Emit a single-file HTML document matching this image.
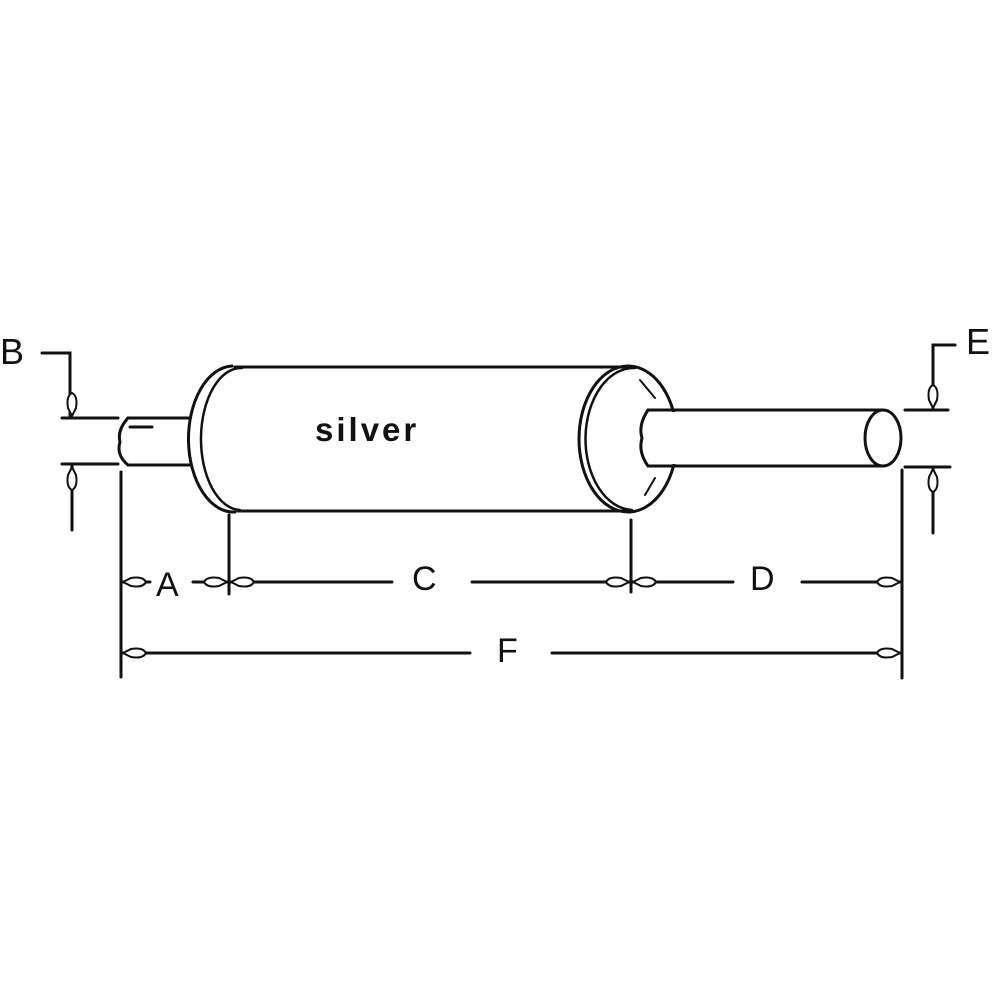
<!DOCTYPE html>
<html><head><style>html,body{margin:0;padding:0;background:#fff;}svg{display:block}</style></head>
<body>
<svg width="1000" height="1000" viewBox="0 0 1000 1000" xmlns="http://www.w3.org/2000/svg">
<g stroke="#111" stroke-width="3" fill="none" stroke-linecap="round">
<line x1="128" y1="418" x2="190" y2="418"/>
<line x1="128" y1="465" x2="190" y2="465"/>
<path d="M128,418 Q117,430 120,442 Q116,455 128,465"/>
<line x1="130" y1="427" x2="152" y2="427"/>
<line x1="235" y1="367" x2="625" y2="367"/>
<line x1="238" y1="511" x2="625" y2="511"/>
<path d="M232,366 A45,73 0 0 0 235,512"/>
<path d="M242,368 A40,71 0 0 0 240,510" stroke-width="2.5"/>
<ellipse cx="628" cy="439" rx="49" ry="73"/>
<path d="M635,368 A48,71 0 0 0 632,510" stroke-width="2.5"/>
<path d="M640,380 L655,398 M645,495 L655,478" stroke-width="2"/>
<rect x="647" y="412" width="40" height="52" fill="#fff" stroke="none"/>
<line x1="648" y1="410" x2="882" y2="410"/>
<line x1="648" y1="466" x2="882" y2="466"/>
<path d="M648,410 Q638,425 642,438 Q638,452 648,466"/>
<ellipse cx="883" cy="438" rx="18" ry="28" fill="#fff"/>
<polyline points="42,353 70,353 70,416"/>
<line x1="62" y1="418" x2="118" y2="418"/>
<line x1="62" y1="464" x2="118" y2="464"/>
<line x1="72" y1="530" x2="72" y2="466"/>
<polyline points="955,345 933,345 933,408"/>
<line x1="905" y1="410" x2="948" y2="410"/>
<line x1="905" y1="467" x2="950" y2="467"/>
<line x1="933" y1="533" x2="933" y2="469"/>
<line x1="121" y1="472" x2="121" y2="677"/>
<line x1="229" y1="515" x2="229" y2="594"/>
<line x1="631" y1="520" x2="631" y2="592"/>
<line x1="902" y1="470" x2="902" y2="678"/>
<line x1="123" y1="582" x2="150" y2="582"/>
<line x1="193" y1="582" x2="227" y2="582"/>
<line x1="231" y1="582" x2="392" y2="582"/>
<line x1="472" y1="582" x2="629" y2="582"/>
<line x1="633" y1="582" x2="733" y2="582"/>
<line x1="802" y1="582" x2="900" y2="582"/>
<line x1="123" y1="653" x2="470" y2="653"/>
<line x1="552" y1="653" x2="900" y2="653"/>
</g>
<g fill="#fff" stroke="#111" stroke-width="2">
<path d="M123,582 l8,-4 q12,-2 15,4 q-3,6 -15,4z"/>
<path d="M227,582 l-8,-4 q-12,-2 -15,4 q3,6 15,4z"/>
<path d="M231,582 l8,-4 q12,-2 15,4 q-3,6 -15,4z"/>
<path d="M629,582 l-8,-4 q-12,-2 -15,4 q3,6 15,4z"/>
<path d="M633,582 l8,-4 q12,-2 15,4 q-3,6 -15,4z"/>
<path d="M900,582 l-8,-4 q-12,-2 -15,4 q3,6 15,4z"/>
<path d="M123,653 l8,-4 q12,-2 15,4 q-3,6 -15,4z"/>
<path d="M900,653 l-8,-4 q-12,-2 -15,4 q3,6 15,4z"/>
<path d="M72,416 l-4,-8 q-2,-12 4,-15 q6,3 4,15z"/>
<path d="M72,467 l-4,8 q-2,12 4,15 q6,-3 4,-15z"/>
<path d="M933,408 l-4,-8 q-2,-12 4,-15 q6,3 4,15z"/>
<path d="M933,469 l-4,8 q-2,12 4,15 q6,-3 4,-15z"/>
</g>
<g font-family="Liberation Sans, sans-serif" fill="#111">
<text x="0" y="364" font-size="36">B</text>
<text x="966" y="354" font-size="36">E</text>
<text x="156" y="596" font-size="34">A</text>
<text x="412" y="590" font-size="34">C</text>
<text x="750" y="590" font-size="34">D</text>
<text x="497" y="662" font-size="34">F</text>
<text x="315" y="441" font-size="33" font-weight="bold" letter-spacing="3">silver</text>
</g>
</svg>
</body></html>
